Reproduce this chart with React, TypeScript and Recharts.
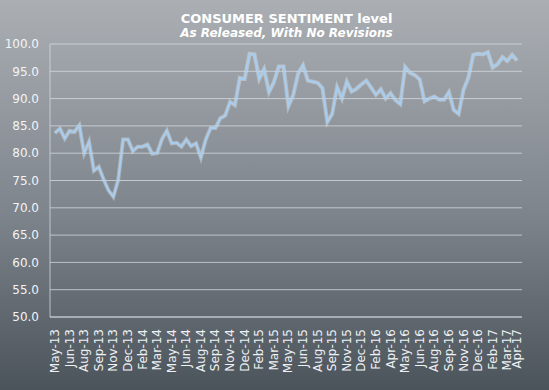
import React from 'react';
import { LineChart, Line, XAxis, YAxis, CartesianGrid } from 'recharts';

// Consumer sentiment, preliminary then final reading for each month (as released)
const months = [
  'May-13', 'Jun-13', 'Jul-13', 'Aug-13', 'Sep-13', 'Oct-13', 'Nov-13', 'Dec-13',
  'Jan-14', 'Feb-14', 'Mar-14', 'Apr-14', 'May-14', 'Jun-14', 'Jul-14', 'Aug-14',
  'Sep-14', 'Oct-14', 'Nov-14', 'Dec-14', 'Jan-15', 'Feb-15', 'Mar-15', 'Apr-15',
  'May-15', 'Jun-15', 'Jul-15', 'Aug-15', 'Sep-15', 'Oct-15', 'Nov-15', 'Dec-15',
  'Jan-16', 'Feb-16', 'Mar-16', 'Apr-16', 'May-16', 'Jun-16', 'Jul-16', 'Aug-16',
  'Sep-16', 'Oct-16', 'Nov-16', 'Dec-16', 'Jan-17', 'Feb-17', 'Mar-17', 'Apr-17',
];

const released = [
  83.7, 84.5, 82.7, 84.1, 83.9, 85.1, 80.0, 82.1, 76.8, 77.5, 75.2, 73.2, 72.0, 75.1, 82.5, 82.5,
  80.4, 81.2, 81.2, 81.6, 79.9, 80.0, 82.6, 84.1, 81.8, 81.9, 81.2, 82.5, 81.3, 81.8, 79.2, 82.5,
  84.6, 84.6, 86.4, 86.9, 89.4, 88.8, 93.8, 93.6, 98.2, 98.1, 93.6, 95.4, 91.2, 93.0, 95.9, 95.9,
  88.6, 90.7, 94.6, 96.1, 93.3, 93.1, 92.9, 91.9, 85.7, 87.2, 92.1, 90.0, 93.1, 91.3, 91.8, 92.6,
  93.3, 92.0, 90.7, 91.7, 90.0, 91.0, 89.7, 89.0, 95.8, 94.7, 94.3, 93.5, 89.5, 90.0, 90.4, 89.8,
  89.8, 91.2, 87.9, 87.2, 91.6, 93.8, 98.0, 98.2, 98.1, 98.5, 95.7, 96.3, 97.6, 96.9, 98.0, 97.0,
];

// axis labels as printed under the chart
const tickLabels = [
  'May-13', 'Jun-13', 'Aug-13', 'Sep-13', 'Nov-13', 'Dec-13', 'Feb-14', 'Mar-14', 'May-14',
  'Jun-14', 'Aug-14', 'Sep-14', 'Nov-14', 'Dec-14', 'Feb-15', 'Mar-15', 'May-15', 'Jun-15',
  'Aug-15', 'Sep-15', 'Nov-15', 'Dec-15', 'Feb-16', 'Apr-16', 'May-16', 'Jun-16', 'Aug-16',
  'Sep-16', 'Nov-16', 'Dec-16', 'Feb-17', 'Mar-17', 'Apr-17',
];

const yTicks = [50, 55, 60, 65, 70, 75, 80, 85, 90, 95, 100];

const data = released.map((value, i) => ({ idx: i, month: months[Math.floor(i / 2)], value }));
const lastIdx = released.length - 1;
const xTicks = tickLabels.map((_, i) => Math.min(i * 3, lastIdx));

const FONT = '"DejaVu Sans", Verdana, sans-serif';
const GRID = 'rgba(215,220,226,0.75)';

function XTick({ x, y, index }: any) {
  return (
    <text
      x={x}
      y={y}
      transform={`rotate(-90, ${x}, ${y + 4})`}
      dy={4}
      textAnchor="end"
      dominantBaseline="central"
      fill="#eef1f4"
      fontSize={12}
      fontFamily={FONT}
    >
      {tickLabels[index]}
    </text>
  );
}

export default function App() {
  return (
    <div
      style={{
        position: 'fixed',
        left: 0,
        top: 0,
        width: 549,
        height: 390,
        background: 'linear-gradient(to bottom, #abafb4 0%, #7d848b 55%, #4b535b 100%)',
        fontFamily: FONT,
      }}
    >
      <div
        style={{
          position: 'absolute',
          left: 24,
          width: 525,
          top: 11,
          textAlign: 'center',
          color: '#ffffff',
          fontWeight: 'bold',
        }}
      >
        <div style={{ fontSize: 13, lineHeight: '15px' }}>CONSUMER SENTIMENT level</div>
        <div style={{ fontSize: 12, lineHeight: '15px', fontStyle: 'italic' }}>As Released, With No Revisions</div>
      </div>
      <div style={{ position: 'absolute', left: 0, top: 0 }}>
        <LineChart width={549} height={390} data={data} margin={{ top: 44, right: 27, bottom: 0, left: 0 }}>
          <CartesianGrid vertical={false} stroke={GRID} strokeWidth={1} />
          <XAxis
            dataKey="idx"
            type="number"
            domain={[0, lastIdx]}
            ticks={xTicks}
            interval={0}
            height={73}
            padding={{ left: 5, right: 5 }}
            axisLine={{ stroke: GRID }}
            tickLine={false}
            tick={<XTick />}
          />
          <YAxis
            domain={[50, 100]}
            ticks={yTicks}
            width={50}
            tickMargin={5}
            tickFormatter={(v: number) => v.toFixed(1)}
            axisLine={{ stroke: GRID }}
            tickLine={false}
            tick={{ fill: '#f2f4f6', fontSize: 12, fontFamily: FONT }}
          />
          <YAxis
            yAxisId="border"
            orientation="right"
            domain={[50, 100]}
            width={0}
            tick={false}
            tickLine={false}
            axisLine={{ stroke: GRID }}
          />
          <Line
            type="linear"
            dataKey="value"
            stroke="rgba(235,245,255,0.35)"
            strokeWidth={4}
            dot={false}
            isAnimationActive={false}
          />
          <Line
            type="linear"
            dataKey="value"
            stroke="#a9cdee"
            strokeWidth={2}
            dot={false}
            isAnimationActive={false}
          />
        </LineChart>
      </div>
    </div>
  );
}
